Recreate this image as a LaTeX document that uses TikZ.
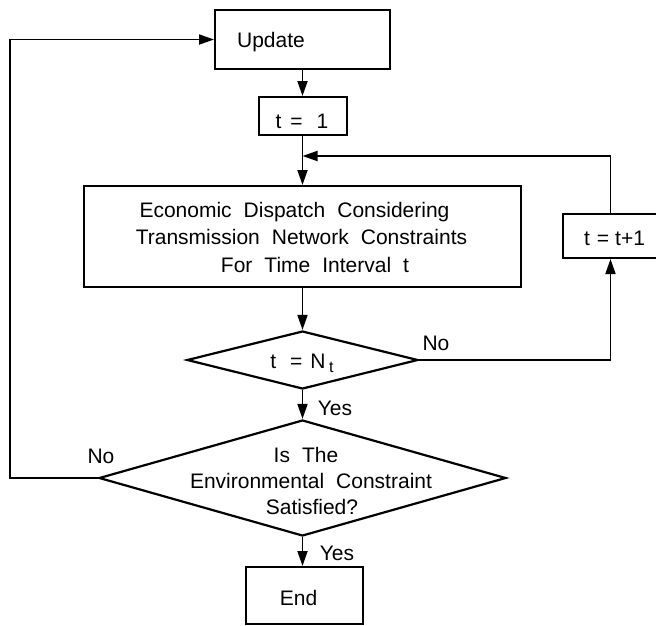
\documentclass[tikz,border=0pt]{standalone}
\usepackage{fontspec}
\setmainfont{Liberation Sans}
\usetikzlibrary{shapes.geometric,arrows.meta}
\newcommand{\mytxtfont}{\fontsize{21}{25}\selectfont\spaceskip=12pt plus 1pt\relax}
\begin{document}
\begin{tikzpicture}[x=1pt,y=-1pt,
  box/.style={draw, line width=2pt, inner sep=0pt},
  dia/.style={draw, diamond, line width=2.2pt, inner sep=0pt},
  txt/.style={font=\mytxtfont, inner sep=0pt, anchor=base},
  conn/.style={line width=1.8pt, -{Triangle[length=15pt,width=10pt]}}]
\useasboundingbox (0,0) rectangle (656,625);

% boxes
\node[box, minimum width=175pt, minimum height=59pt] (update) at (302.5,39.5) {};
\node[txt] (updatetxt) at (271,47) {Update};

\node[box, minimum width=88pt, minimum height=38pt] (t1) at (302.5,116) {};
\node[txt] (t1txt) at (302,128) {t\hspace{9pt}=\hspace{14pt}1};

\node[box, minimum width=437pt, minimum height=101pt] (econ) at (302.5,236.5) {};
\node[txt] (e1) at (294.5,217) {Economic Dispatch Considering};
\node[txt] (e2) at (301.5,244) {Transmission Network Constraints};
\node[txt] (e3) at (315,272) {For Time Interval t};

\node[box, minimum width=95pt, minimum height=44pt] (tinc) at (610.5,236) {};
\node[txt] (tinctxt) at (614.5,245) {t\hspace{7pt}=\hspace{6pt}t+1};

\node[dia, minimum width=231pt, minimum height=58pt] (d1) at (302.5,360) {};
\node[txt] (d1txt) at (302,368) {t\hspace{14pt}=\hspace{8pt}N\,\raisebox{-4pt}{\fontsize{16}{16}\selectfont t}};

\node[dia, minimum width=407pt, minimum height=116pt] (d2) at (302.5,478) {};
\node[txt] (d2a) at (306,462) {Is The};
\node[txt] (d2b) at (311,488) {Environmental Constraint};
\node[txt] (d2c) at (312,514) {Satisfied?};

\node[box, minimum width=117pt, minimum height=57pt] (end) at (304.5,595.5) {};
\node[txt] (endtxt) at (298.5,605) {End};

% labels
\node[txt] (yes1) at (335,415) {Yes};
\node[txt] (yes2) at (337,560) {Yes};
\node[txt] (no1) at (436,350) {No};
\node[txt] (no2) at (101,463) {No};

% connectors
\coordinate (join) at (302.5,156);
\coordinate (lc) at (10,39.5);
\draw[conn] (update.south) -- (t1.north);
\draw[conn] (t1.south) -- (econ.north);
\draw[conn] (tinc.north) |- (join);
\draw[conn] (econ.south) -- (d1.north);
\draw[conn] (d1.east) -| (tinc.south);
\draw[conn] (d1.south) -- (d2.north);
\draw[conn] (d2.south) -- (d2.south |- end.north);
\draw[conn] (d2.west) -| (lc) -- (update.west);
\end{tikzpicture}
\end{document}
